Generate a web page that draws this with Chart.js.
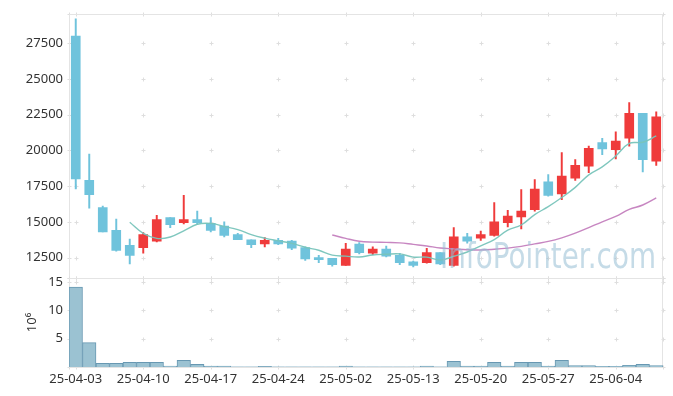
<!DOCTYPE html>
<html>
<head>
<meta charset="utf-8">
<script src="https://cdn.jsdelivr.net/npm/chart.js@4/dist/chart.umd.min.js"></script>
<style>
  html, body { margin: 0; padding: 0; background: #ffffff; }
  #wrap { position: relative; width: 673px; height: 396px; }
  canvas { position: absolute; left: 0; top: 0; }
</style>
</head>
<body>
<div id="wrap">
  <canvas id="price" width="673" height="396"></canvas>
  <canvas id="vol" width="673" height="396"></canvas>
</div>
<script>
// ---- data ----
const dates = ['25-04-03','25-04-04','25-04-07','25-04-08','25-04-09','25-04-10','25-04-11','25-04-14','25-04-15','25-04-16',
  '25-04-17','25-04-18','25-04-21','25-04-22','25-04-23','25-04-24','25-04-25','25-04-28','25-04-29','25-04-30',
  '25-05-02','25-05-07','25-05-08','25-05-09','25-05-12','25-05-13','25-05-14','25-05-15','25-05-16','25-05-19',
  '25-05-20','25-05-21','25-05-22','25-05-23','25-05-26','25-05-27','25-05-28','25-05-29','25-05-30','25-06-02',
  '25-06-04','25-06-05','25-06-09','25-06-10'];

const openP  = [28000,17900,16000,14400,13350,13200,13650,15300,14950,15150,14900,14700,14100,13750,13450,13700,13650,13200,12500,12450,
  11950,13450,12800,13100,12650,12200,12150,12850,11950,13950,13850,14050,14950,15350,15850,17800,16950,18050,18900,20550,20050,20850,22600,19250];
const highP  = [29200,19750,16100,15200,13800,14250,15450,15300,16850,15750,15300,15000,14200,13750,13900,13850,13700,13250,12650,12450,
  13500,13550,13250,13300,12800,12250,13150,12850,14600,14200,14350,16350,15800,17250,17950,18300,19850,19350,20300,20850,21300,23350,22600,22700];
const lowP   = [17300,15950,14300,12950,12050,12800,13600,14600,14850,14800,14300,13950,13750,13200,13250,13400,13050,12300,12150,11900,
  11950,12750,12700,12550,12000,11850,12100,12000,11900,13500,13700,14000,14650,14500,15750,16800,16550,17900,18450,19700,19400,20300,18500,18950];
const closeP = [18000,16900,14300,13000,12650,14100,15150,14800,15150,14950,14400,14050,13750,13400,13700,13450,13150,12400,12350,12000,
  13100,12850,13100,12600,12150,11950,12850,12050,13950,13650,14100,15000,15400,15750,17300,16850,18200,18950,20150,20100,20650,22600,19350,22350];

const ma5 = [null,null,null,null,14970,14190,13840,13940,14370,14830,14890,14670,14460,14110,13860,13670,13490,13220,13010,12670,
  12600,12540,12680,12730,12760,12530,12530,12320,12590,12890,13320,13750,14420,14780,15510,16060,16700,17410,18290,18850,19610,20490,20570,21010];
const ma20 = [null,null,null,null,null,null,null,null,null,null,null,null,null,null,null,null,null,null,null,14080,
  13840,13640,13580,13560,13530,13420,13310,13170,13110,13050,13030,13080,13160,13280,13460,13630,13880,14210,14600,15000,15380,15870,16180,16670];

// volume in millions (axis title 10^6)
const volume = [14.1,4.3,0.65,0.65,0.82,0.82,0.82,0.17,1.17,0.47,0.15,0.15,0.02,0.02,0.1,0.02,0.02,0.02,0.02,0.02,
  0.15,0.02,0.02,0.02,0.02,0.02,0.15,0.02,1.0,0.15,0.15,0.82,0.15,0.82,0.82,0.15,1.17,0.23,0.23,0.12,0.12,0.3,0.47,0.25];

const priceTicks = [12500,15000,17500,20000,22500,25000,27500];
const volTicks = [5,10,15];
const xTickLabels = ['25-04-03','25-04-10','25-04-17','25-04-24','25-05-02','25-05-13','25-05-20','25-05-27','25-06-04'];

// ---- styling ----
const UP = '#ef3b3b', DOWN = '#6fc3dc';
const FONT = '"Noto Sans", "DejaVu Sans", sans-serif';
const TXT = '#333333';
const candleColors = openP.map((o, i) => closeP[i] >= o ? UP : DOWN);

const frameCross = {
  id: 'frameCross',
  beforeDatasetsDraw(chart) {
    const {ctx, chartArea: a, scales} = chart;
    const xs = [a.left, ...xTickLabels.map(l => scales.x.getPixelForValue(dates.indexOf(l))), a.right];
    const ys = [a.top, ...scales.y.ticks.map(t => scales.y.getPixelForValue(t.value)), a.bottom];
    ctx.save();
    ctx.strokeStyle = '#dedede';
    ctx.lineWidth = 1;
    ctx.beginPath();
    for (const px of xs) {
      for (const py of ys) {
        const X = Math.round(px) + 0.5, Y = Math.round(py) + 0.5;
        ctx.moveTo(X - 2, Y); ctx.lineTo(X + 2, Y);
        ctx.moveTo(X, Y - 2); ctx.lineTo(X, Y + 2);
      }
    }
    ctx.stroke();
    ctx.strokeStyle = '#e4e4e4';
    ctx.strokeRect(Math.round(a.left) + 0.5, Math.round(a.top) + 0.5,
      Math.round(a.right) - Math.round(a.left) - 1, Math.round(a.bottom) - Math.round(a.top));
    ctx.restore();
  }
};

const watermark = {
  id: 'watermark',
  afterDatasetsDraw(chart) {
    const {ctx} = chart;
    ctx.save();
    ctx.font = '36px "DejaVu Sans", sans-serif';
    ctx.fillStyle = 'rgba(150,190,212,0.55)';
    ctx.textBaseline = 'alphabetic';
    ctx.textAlign = 'left';
    ctx.fillText('InfoPointer.com', 440, 268, 216);
    ctx.restore();
  }
};

const commonTicks = { color: TXT, font: { family: FONT, size: 13 } };
const plainNum = v => String(v);

new Chart(document.getElementById('price'), {
  type: 'bar',
  data: {
    labels: dates,
    datasets: [
      { type: 'line', data: ma5, borderColor: 'rgba(120,196,186,0.95)', borderWidth: 1.4,
        pointRadius: 0, tension: 0.4, spanGaps: false },
      { type: 'line', data: ma20, borderColor: 'rgba(196,128,190,0.95)', borderWidth: 1.4,
        pointRadius: 0, tension: 0.4, spanGaps: false },
      { data: openP.map((o, i) => [o, closeP[i]]), backgroundColor: candleColors,
        barThickness: 9, grouped: false },
      { data: lowP.map((l, i) => [l, highP[i]]), backgroundColor: candleColors,
        barThickness: 1.3, grouped: false }
    ]
  },
  options: {
    responsive: false, animation: false, devicePixelRatio: 1,
    layout: { padding: { left: 0, right: 10, top: 11, bottom: 118 } },
    plugins: { legend: { display: false }, tooltip: { enabled: false } },
    scales: {
      x: { display: false, offset: true },
      y: {
        min: 11070, max: 29560,
        afterFit(s) { s.width = 69; },
        afterBuildTicks(s) { s.ticks = priceTicks.map(v => ({ value: v })); },
        grid: { display: false, drawTicks: false }, border: { display: false },
        ticks: { ...commonTicks, padding: 6, callback: plainNum }
      }
    }
  },
  plugins: [frameCross, watermark]
});

new Chart(document.getElementById('vol'), {
  type: 'bar',
  data: {
    labels: dates,
    datasets: [
      { data: volume, backgroundColor: 'rgba(155,194,210,1)', borderColor: 'rgba(104,152,178,1)',
        borderWidth: 1, barPercentage: 1, categoryPercentage: 1 }
    ]
  },
  options: {
    responsive: false, animation: false, devicePixelRatio: 1,
    layout: { padding: { left: 0, right: 10, top: 278, bottom: 0 } },
    plugins: { legend: { display: false }, tooltip: { enabled: false } },
    scales: {
      x: {
        offset: true,
        afterFit(s) { s.height = 29; },
        grid: { display: false, drawTicks: false }, border: { display: false },
        ticks: { ...commonTicks, autoSkip: false, maxRotation: 0, padding: 4,
          callback(v, i) { const l = dates[i]; return xTickLabels.includes(l) ? l : ''; } }
      },
      y: {
        min: 0, max: 15.7,
        afterFit(s) { s.width = 69; },
        afterBuildTicks(s) { s.ticks = volTicks.map(v => ({ value: v })); },
        grid: { display: false, drawTicks: false }, border: { display: false },
        ticks: { ...commonTicks, padding: 6, callback: plainNum },
        title: { display: true, text: '10\u2076', color: TXT,
          font: { family: FONT, size: 13 }, padding: { top: 24, bottom: 0 } }
      }
    }
  },
  plugins: [frameCross]
});
</script>
</body>
</html>
